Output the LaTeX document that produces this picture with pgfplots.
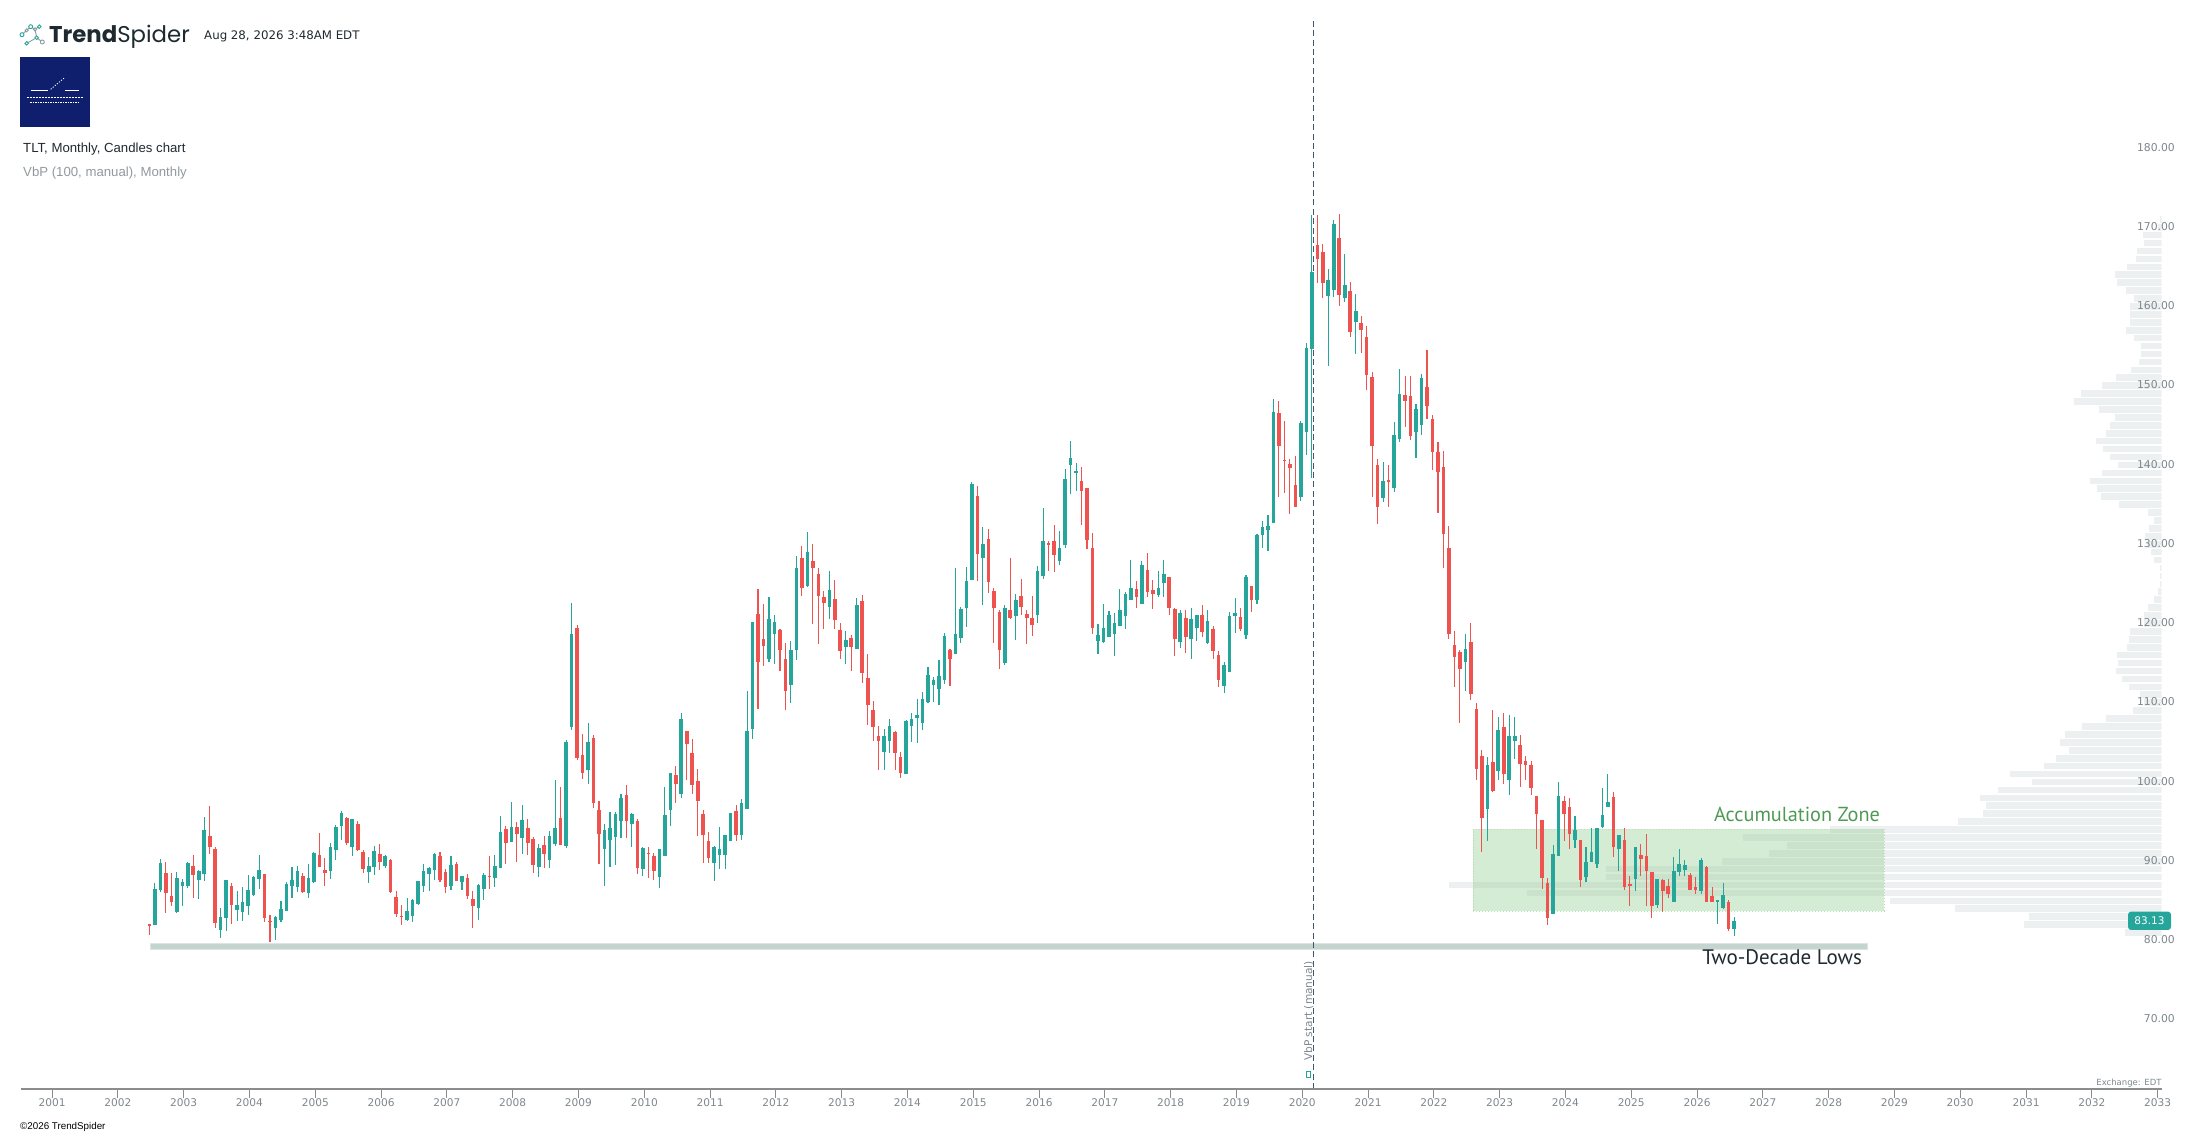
\documentclass[border=0pt]{standalone}
\usepackage{fontspec}
\setmainfont{DejaVu Sans}
\newfontfamily\libsans{Liberation Sans}
\newfontfamily\ptsans{PT Sans}
\newfontfamily\popfont{Poppins}
\usepackage{pgfplots}
\usepackage{pgfplotstable}
\pgfplotsset{compat=1.18}
\definecolor{up}{HTML}{26A69A}
\definecolor{dn}{HTML}{EF5350}
\definecolor{vbp}{HTML}{EDF0F1}
\definecolor{zone}{RGB}{158,210,158}
\definecolor{band}{HTML}{C4D4CE}
\definecolor{axisgray}{HTML}{8C8C8C}
\definecolor{lblgray}{HTML}{7D878C}
\definecolor{dashc}{HTML}{44546A}
\definecolor{navy}{HTML}{0F1F6E}
\definecolor{dark}{HTML}{1E2A30}
\definecolor{zonetext}{RGB}{78,154,84}
\definecolor{icongray}{HTML}{8A9AA0}

\pgfplotstableread{
k o h l c
0 82.0 82.0 80.6 81.8
1 81.8 87.2 81.8 86.4
2 86.3 90.2 86.0 89.7
3 88.4 89.8 83.4 85.9
4 85.5 88.4 84.2 84.7
5 83.45 88.5 83.4 87.8
6 86.8 87.7 84.3 87.3
7 86.8 89.8 86.5 89.7
8 89.3 90.7 85.3 88.1
9 87.5 88.8 85.1 88.7
10 88.3 95.5 87.4 93.8
11 93.1 96.9 90.8 91.7
12 91.4 91.7 81.5 82.1
13 81.2 84.0 80.2 82.9
14 82.7 87.5 81.1 87.5
15 86.8 87.2 82.0 84.4
16 83.75 86.1 82.4 84.4
17 83.5 86.6 82.4 84.8
18 84.3 88.2 83.1 86.3
19 85.6 88.0 85.5 87.9
20 87.7 90.7 86.4 88.8
21 88.3 88.3 82.2 82.7
22 82.35 83.1 79.7 82.25
23 81.5 83.0 80.0 82.9
24 82.5 84.9 82.2 83.9
25 83.6 87.3 83.6 87.0
26 86.8 89.2 85.3 87.5
27 86.65 89.3 86.0 88.7
28 88.0 88.4 85.9 86.0
29 85.9 89.6 85.3 87.8
30 87.3 91.1 87.2 91.0
31 90.7 93.5 89.2 89.2
32 88.8 90.3 86.8 88.4
33 88.7 92.2 87.7 91.7
34 91.3 94.5 90.1 94.2
35 94.35 96.2 92.6 96.0
36 95.4 95.5 92.0 92.2
37 91.7 95.2 90.6 95.2
38 94.6 95.0 91.2 91.3
39 91.1 91.3 88.4 88.9
40 88.5 90.4 87.2 89.3
41 89.2 91.8 88.2 91.2
42 90.8 92.1 88.8 89.8
43 89.3 90.7 89.05 90.6
44 90.1 90.2 85.9 86.0
45 85.4 86.1 82.9 83.2
46 83.05 84.4 81.9 82.95
47 82.5 85.3 82.4 83.6
48 83.0 85.1 82.2 85.0
49 84.5 87.4 84.4 87.4
50 86.8 89.6 86.0 88.7
51 88.3 89.2 86.1 89.05
52 88.8 90.9 87.5 90.8
53 90.6 91.1 87.3 87.5
54 88.5 88.9 85.9 86.65
55 86.8 90.6 86.3 89.4
56 89.55 89.8 87.4 87.4
57 87.3 88.0 86.3 88.0
58 87.8 88.3 85.1 85.5
59 85.1 86.1 81.5 84.3
60 84.0 87.0 82.5 86.9
61 86.4 88.4 85.0 88.2
62 88.05 90.6 86.4 87.95
63 87.8 90.7 86.7 89.3
64 89.05 95.6 89.05 93.6
65 94.0 94.35 89.6 92.2
66 92.3 97.4 92.3 94.2
67 94.2 94.85 89.8 93.3
68 92.8 97.0 90.8 95.1
69 94.1 95.2 90.7 92.2
70 92.7 93.0 88.4 89.4
71 89.2 92.1 87.9 91.6
72 91.95 93.1 89.05 90.8
73 90.05 93.7 89.05 93.1
74 92.1 100.2 91.8 94.1
75 95.4 99.3 91.9 91.9
76 91.8 105.2 91.6 104.95
77 106.8 122.5 106.5 118.6
78 119.3 119.7 102.7 102.9
79 103.3 105.9 100.3 101.0
80 101.4 107.4 99.65 104.95
81 105.45 105.8 96.6 97.3
82 96.4 97.5 89.6 93.35
83 91.45 94.6 86.8 93.85
84 92.6 96.1 89.2 94.1
85 93.0 96.1 89.4 95.9
86 95.0 98.4 92.8 97.9
87 98.3 99.5 92.8 95.0
88 94.6 96.0 91.7 95.9
89 95.0 95.2 88.3 89.05
90 88.9 91.7 88.05 91.6
91 90.95 91.7 87.8 90.85
92 90.6 90.95 87.55 88.7
93 87.9 91.45 86.5 91.45
94 90.6 99.3 90.6 95.75
95 96.4 101.0 94.35 101.0
96 100.8 101.9 97.3 99.65
97 98.4 108.6 97.9 107.85
98 106.35 106.35 100.2 104.7
99 103.55 105.3 98.4 99.5
100 100.0 101.55 93.1 97.5
101 95.9 96.4 89.7 93.2
102 92.45 93.6 89.7 90.3
103 89.7 91.8 87.4 91.7
104 90.7 94.2 88.9 91.45
105 90.7 93.2 88.9 93.2
106 92.45 96.0 92.45 96.0
107 96.25 97.0 92.45 93.2
108 93.2 97.75 92.6 97.25
109 96.5 111.4 96.5 106.35
110 106.6 120.1 105.3 120.1
111 121.1 124.25 109.1 115.05
112 117.95 122.4 114.5 117.05
113 115.4 123.25 115.05 120.5
114 118.6 120.95 114.8 120.1
115 119.1 119.2 113.9 116.6
116 115.4 117.4 109.0 111.4
117 112.15 117.7 109.9 116.6
118 116.6 128.4 115.3 126.9
119 128.2 129.7 123.4 124.4
120 124.65 131.45 124.5 128.9
121 127.8 129.9 119.85 126.9
122 126.15 126.9 117.3 123.4
123 123.25 124.0 119.2 122.5
124 121.95 126.5 120.5 124.1
125 123.0 125.4 119.2 120.35
126 119.1 119.95 115.4 116.4
127 116.95 118.95 114.8 117.8
128 118.05 118.45 113.9 116.95
129 116.7 123.1 116.7 122.2
130 122.75 123.5 112.4 113.65
131 113.0 116.05 107.1 109.6
132 109.0 110.1 105.1 106.85
133 105.7 106.95 101.4 105.1
134 103.7 106.6 101.4 105.7
135 105.1 107.9 103.55 106.95
136 106.2 106.35 101.4 103.55
137 103.05 103.7 100.4 101.05
138 100.9 107.7 100.9 107.6
139 106.95 108.6 104.95 107.85
140 107.98 110.4 104.8 108.35
141 107.35 111.25 106.45 110.4
142 110.0 114.4 109.9 113.4
143 112.15 113.2 110.0 112.8
144 111.65 115.3 109.65 113.3
145 112.8 118.7 112.3 118.3
146 116.55 116.7 112.0 115.4
147 116.1 126.9 116.1 118.6
148 118.1 122.0 117.45 121.75
149 121.85 127.0 119.45 125.3
150 125.4 137.8 125.4 137.5
151 136.0 137.25 125.3 128.7
152 128.2 132.1 122.25 129.95
153 130.6 131.85 123.75 125.15
154 124.0 124.4 117.45 121.85
155 121.35 121.6 114.2 116.55
156 114.9 122.25 114.7 121.85
157 121.6 128.2 120.5 120.6
158 120.85 123.6 117.8 122.9
159 123.4 125.5 121.0 122.0
160 121.1 121.6 117.3 120.6
161 120.6 123.4 118.3 119.7
162 121.0 127.2 120.0 126.5
163 125.9 134.5 125.5 130.3
164 130.1 130.3 126.5 129.8
165 130.3 132.3 126.4 128.55
166 127.8 131.6 127.3 129.4
167 129.8 139.4 129.4 138.1
168 139.9 142.9 136.25 140.8
169 138.9 140.15 136.6 139.15
170 137.9 139.65 132.3 136.6
171 137.0 137.0 129.3 130.4
172 129.4 131.3 118.6 119.3
173 117.7 119.85 116.05 118.45
174 117.6 122.4 117.45 119.35
175 118.2 121.5 118.2 121.0
176 118.6 121.25 115.8 119.95
177 119.6 124.25 119.6 121.6
178 120.85 123.9 119.2 123.6
179 122.9 127.9 122.9 124.4
180 124.25 125.3 121.9 123.25
181 122.4 127.8 122.4 127.3
182 126.65 128.8 123.25 123.9
183 124.15 125.4 121.75 123.6
184 123.5 126.5 123.25 124.4
185 125.0 127.9 123.25 126.15
186 125.8 125.8 120.95 121.85
187 121.7 121.85 115.8 117.95
188 117.6 121.6 116.8 121.25
189 120.6 121.6 116.2 118.2
190 117.95 121.85 115.45 120.5
191 119.35 120.95 117.7 120.95
192 120.95 122.25 118.2 118.85
193 117.45 121.6 117.3 120.2
194 119.2 119.6 115.45 116.45
195 115.95 116.45 111.9 112.8
196 112.0 115.05 111.15 114.65
197 113.8 121.35 113.8 120.85
198 120.85 123.1 118.7 121.25
199 120.7 121.85 118.95 119.2
200 118.45 126.05 117.95 125.8
201 124.65 124.65 121.35 122.9
202 122.9 131.2 122.4 131.05
203 131.05 132.85 129.4 132.1
204 131.75 133.6 129.0 132.2
205 132.6 148.2 132.6 146.6
206 146.5 148.0 135.9 142.3
207 140.55 145.4 136.3 140.45
208 140.05 140.7 133.75 139.5
209 137.4 141.0 134.6 134.6
210 135.9 145.4 135.3 145.2
211 144.1 155.3 141.2 154.7
212 154.55 171.5 138.2 164.3
213 167.7 171.4 162.8 165.9
214 166.8 167.8 161.0 162.8
215 161.2 164.6 152.4 163.2
216 162.0 170.8 161.1 170.3
217 168.5 171.6 160.0 161.4
218 161.0 166.5 160.5 162.6
219 161.9 163.0 156.1 156.7
220 157.9 161.5 153.9 159.3
221 157.8 158.7 154.0 156.9
222 156.0 157.4 149.3 151.2
223 151.0 151.65 135.9 142.3
224 139.9 140.7 132.5 134.6
225 135.75 140.3 135.2 137.9
226 138.0 139.9 134.6 137.7
227 137.0 145.3 136.5 143.7
228 143.2 152.0 142.8 148.9
229 148.75 151.1 144.7 148.0
230 148.6 151.1 143.0 143.5
231 144.1 147.6 140.8 147.0
232 145.0 151.4 143.7 150.9
233 149.8 154.4 145.7 147.35
234 145.7 146.2 139.3 141.5
235 141.5 142.8 133.9 139.0
236 139.7 141.7 126.9 131.2
237 129.4 132.2 118.0 118.6
238 117.2 119.0 111.9 115.7
239 116.35 116.6 107.4 114.1
240 115.1 118.6 111.4 116.7
241 117.6 120.0 110.2 111.05
242 109.1 109.9 100.2 101.6
243 103.2 103.9 91.1 95.3
244 96.5 103.05 92.5 102.05
245 102.4 109.0 98.65 98.8
246 101.3 108.1 100.2 106.5
247 106.85 108.6 99.6 100.95
248 100.1 108.4 98.2 105.75
249 105.1 108.1 102.8 105.7
250 104.6 105.8 99.3 102.2
251 102.5 103.2 100.1 102.1
252 102.05 102.55 98.2 99.2
253 98.1 98.1 91.5 95.8
254 95.1 95.1 86.45 87.8
255 87.1 87.8 81.8 82.8
256 83.2 91.9 83.2 90.8
257 90.5 99.9 90.5 98.1
258 97.55 98.1 92.4 95.9
259 96.7 97.85 91.4 93.35
260 92.6 95.6 91.6 93.85
261 92.6 92.6 86.7 87.5
262 87.85 91.75 87.3 89.85
263 89.85 94.1 89.85 91.1
264 89.6 94.1 89.1 94.1
265 94.2 99.15 94.1 95.75
266 96.8 100.9 96.8 97.4
267 98.0 98.65 90.4 91.75
268 91.5 93.2 88.7 93.2
269 92.6 94.1 86.3 86.6
270 87.0 88.0 84.2 86.9
271 87.7 91.7 86.2 91.7
272 90.7 92.1 88.0 90.2
273 90.6 93.35 84.3 88.7
274 88.55 88.55 82.7 84.3
275 84.4 87.7 84.05 87.6
276 87.5 87.6 83.55 86.1
277 86.8 87.7 85.2 85.8
278 84.8 90.4 84.8 88.7
279 88.6 91.5 88.0 89.55
280 88.85 90.0 88.1 89.4
281 88.2 88.4 86.3 86.3
282 86.7 87.95 85.8 86.3
283 86.2 90.25 85.8 90.1
284 89.2 89.35 84.8 84.8
285 85.55 86.7 84.7 84.8
286 84.7 85.05 82.0 85.05
287 84.05 87.1 83.9 85.7
288 84.8 85.05 81.15 81.4
289 81.4 82.8 80.5 82.4
}\candles

\pgfplotstableread{
i len
0 37
1 138
2 133
3 207
4 272
5 635
6 713
7 556
8 556
9 440
10 393
11 375
12 419
13 332
14 204
15 179
16 176
17 182
18 164
19 130
20 152
21 118
22 106
23 93
24 102
25 97
26 80
27 56
28 29
29 18
30 22
31 33
32 40
33 46
34 44
35 45
36 35
37 33
38 32
39 18
40 18
41 14
42 8
43 4
44 2
45 2
46 2
47 8
48 11
49 15
50 17
51 13
52 8
53 14
54 43
55 61
56 65
57 72
58 60
59 44
60 52
61 59
62 66
63 56
64 52
65 47
66 63
67 88
68 81
69 60
70 46
71 31
72 23
73 21
74 21
75 28
76 36
77 32
78 32
79 32
80 28
81 36
82 45
83 47
84 35
85 26
86 25
87 18
88 19
89 4
90 2
}\vbptable

\begin{document}
\begin{tikzpicture}[x=1pt,y=1pt]
\useasboundingbox (0,0) rectangle (2192,1135);

% ---- header ----
\begin{scope}[line width=0.9pt]
  \draw[icongray] (22,1100.3) -- (26.7,1104.7) -- (30.7,1108.3) -- (35,1105.7) -- (39.3,1108.3);
  \draw[icongray] (35,1105.7) -- (36.7,1097.3) -- (42.3,1093);
  \draw[icongray] (36.7,1097.3) -- (26.7,1091.7);
  \filldraw[draw=up, fill=white] (22,1100.3) circle (2);
  \filldraw[draw=icongray, fill=white] (26.7,1104.7) circle (1.6);
  \filldraw[draw=up, fill=white] (30.7,1108.3) circle (2);
  \filldraw[draw=icongray, fill=white] (35,1105.7) circle (1.6);
  \filldraw[draw=up, fill=white] (39.3,1108.3) circle (1.8);
  \filldraw[draw=up, fill=white] (36.7,1097.3) circle (1.8);
  \filldraw[draw=icongray, fill=white] (42.3,1093) circle (2);
  \filldraw[draw=up, fill=white] (26.7,1091.7) circle (1.8);
\end{scope}
\node[anchor=base west, inner sep=0pt, text=dark, font=\popfont\fontsize{22.8}{26}\selectfont] at (49,1092.7) {\textbf{Trend}Spider};
\node[anchor=base west, inner sep=0pt, text=dark, font=\fontsize{11.8}{14}\selectfont] at (204,1095.7) {Aug 28, 2026 3:48AM EDT};

\fill[navy] (20,1008.3) rectangle (90,1078.3);
\draw[white, line width=0.8pt] (30.7,1044.3) -- (48.3,1044.3);
\draw[white, line width=0.8pt] (65,1044.3) -- (79,1044.3);
\draw[white, line width=0.8pt, dash pattern=on 1.2pt off 1.5pt] (50.7,1045.7) -- (65,1057.7);
\draw[white, line width=1pt, dash pattern=on 2pt off 1pt] (26.7,1037.3) -- (82.7,1037.3);
\draw[white, line width=0.7pt, dash pattern=on 1.5pt off 1pt] (30,1033) -- (79,1033);

\node[anchor=base west, inner sep=0pt, text=dark, font=\libsans\fontsize{13.2}{15}\selectfont] at (23,982.7) {TLT, Monthly, Candles chart};
\node[anchor=base west, inner sep=0pt, text=lblgray!85, font=\libsans\fontsize{13.2}{15}\selectfont] at (23,958.5) {VbP (100, manual), Monthly};

\node[anchor=base west, inner sep=0pt, text=black, font=\libsans\fontsize{9.8}{12}\selectfont] at (20,5.5) {©2026 TrendSpider};

\begin{axis}[
  at={(21pt,46pt)}, anchor=south west,
  scale only axis, width=2140.7pt, height=1069.4pt,
  xmin=-5.67, xmax=384.75, ymin=61.16, ymax=196.1,
  axis on top,
  axis x line=bottom, axis y line=right,
  y axis line style={draw=none},
  x axis line style={draw=axisgray, line width=1.2pt, -},
  xtick={0,12,...,384},
  xticklabels={2001,2002,2003,2004,2005,2006,2007,2008,2009,2010,2011,2012,2013,2014,2015,2016,2017,2018,2019,2020,2021,2022,2023,2024,2025,2026,2027,2028,2029,2030,2031,2032,2033},
  tick align=outside, major tick length=9pt,
  xtick style={draw=axisgray, line width=1pt},
  ytick={70,80,...,180}, ytick style={draw=none},
  yticklabel={\pgfmathprintnumber[fixed,fixed zerofill,precision=2,assume math mode=true]{\tick}},
  yticklabel style={anchor=east, inner sep=0pt, xshift=4.3pt, font=\fontsize{10.8}{12}\selectfont, text=lblgray},
  xticklabel style={anchor=north, inner sep=0pt, font=\fontsize{10.6}{12}\selectfont, text=lblgray},
  unbounded coords=discard,
]
% volume by price
\addplot[draw=none, mark=none, forget plot,
  error bars/.cd, x dir=both, x explicit, error mark=none,
  error bar style={draw=vbp, line width=6.6pt, solid}]
  table[x expr={384.75-\thisrow{len}/10.966}, y expr={80.9+\thisrow{i}}, x error expr={\thisrow{len}/10.966}] {\vbptable};

% accumulation zone
\fill[zone, fill opacity=0.44] (axis cs:259.2,83.62) rectangle (axis cs:334.1,93.93);
\draw[zone!70, line width=0.8pt, dash pattern=on 1.5pt off 1.5pt] (axis cs:259.2,83.62) rectangle (axis cs:334.1,93.93);
\node[anchor=east, inner sep=0pt, text=zonetext, font=\ptsans\fontsize{20.3}{23}\selectfont] at (axis cs:333.4,95.86) {Accumulation Zone};

% two-decade lows band
\fill[band] (axis cs:17.9,78.8) rectangle (axis cs:331.0,79.55);
\draw[band!60, line width=0.6pt] (axis cs:17.9,78.8) rectangle (axis cs:331.0,79.55);
\node[anchor=east, inner sep=0pt, text=dark, font=\ptsans\fontsize{21}{24}\selectfont] at (axis cs:330.1,77.82) {Two-Decade Lows};

% VbP start line
\draw[dashc, line width=1.3pt, dash pattern=on 6pt off 3.4pt] (axis cs:230,61.16) -- (axis cs:230,196.1);

% candles: up
\addplot[draw=none, mark=none, forget plot,
  restrict expr to domain={\thisrow{c}-\thisrow{o}}{0:1000},
  error bars/.cd, y dir=both, y explicit, error mark=none,
  error bar style={draw=up, line width=1.1pt, solid}]
  table[x expr={\thisrow{k}+17.75}, y expr={(\thisrow{h}+\thisrow{l})/2}, y error expr={(\thisrow{h}-\thisrow{l})/2}] {\candles};
\addplot[draw=none, mark=none, forget plot,
  restrict expr to domain={\thisrow{c}-\thisrow{o}}{0:1000},
  error bars/.cd, y dir=both, y explicit, error mark=none,
  error bar style={draw=up, line width=3.6pt, solid}]
  table[x expr={\thisrow{k}+17.75}, y expr={(\thisrow{o}+\thisrow{c})/2}, y error expr={abs(\thisrow{c}-\thisrow{o})/2}] {\candles};
% candles: down
\addplot[draw=none, mark=none, forget plot,
  restrict expr to domain={\thisrow{c}-\thisrow{o}}{-1000:-0.001},
  error bars/.cd, y dir=both, y explicit, error mark=none,
  error bar style={draw=dn, line width=1.1pt, solid}]
  table[x expr={\thisrow{k}+17.75}, y expr={(\thisrow{h}+\thisrow{l})/2}, y error expr={(\thisrow{h}-\thisrow{l})/2}] {\candles};
\addplot[draw=none, mark=none, forget plot,
  restrict expr to domain={\thisrow{c}-\thisrow{o}}{-1000:-0.001},
  error bars/.cd, y dir=both, y explicit, error mark=none,
  error bar style={draw=dn, line width=3.6pt, solid}]
  table[x expr={\thisrow{k}+17.75}, y expr={(\thisrow{o}+\thisrow{c})/2}, y error expr={abs(\thisrow{c}-\thisrow{o})/2}] {\candles};
\end{axis}

% VbP start label
\node[rotate=90, anchor=west, inner sep=0pt, text=lblgray, font=\fontsize{10.6}{12}\selectfont] at (1308.7,74) {VbP start (manual)};
\draw[up, line width=0.8pt] (1306.7,58) rectangle (1310.7,63.5);

% last price label
\node[fill=up, rounded corners=3pt, text=white, inner sep=0pt, minimum width=43pt, minimum height=18.3pt, font=\fontsize{10.5}{12}\selectfont] at (2149.5,214.2) {83.13};
\node[anchor=base east, inner sep=0pt, text=lblgray, font=\fontsize{8.5}{10}\selectfont] at (2161.7,49) {Exchange: EDT};
\end{tikzpicture}
\end{document}
